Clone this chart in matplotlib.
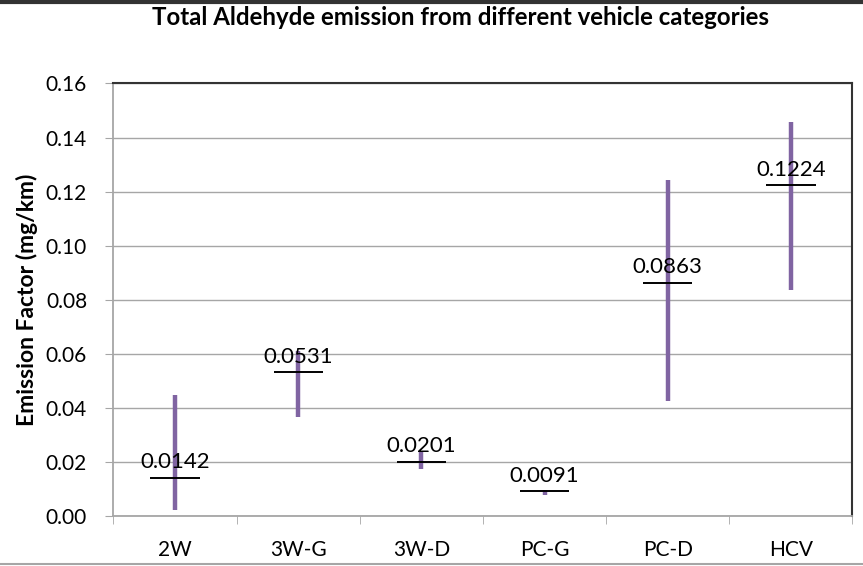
import matplotlib
matplotlib.use('Agg')
import matplotlib.pyplot as plt
from matplotlib.lines import Line2D

plt.rcParams['font.family'] = ['Lato', 'DejaVu Sans']

# emission factors (mg/km) per vehicle category
categories = ['2W', '3W-G', '3W-D', 'PC-G', 'PC-D', 'HCV']
mean_ef = [0.0142, 0.0531, 0.0201, 0.0091, 0.0863, 0.1224]
low_ef = [0.0022, 0.0367, 0.0174, 0.0078, 0.0426, 0.0837]
high_ef = [0.0448, 0.0612, 0.0240, 0.0096, 0.1244, 0.1456]

purple = '#8064A2'

fig = plt.figure(figsize=(8.63, 5.66), dpi=100)
ax = fig.add_axes([0.1315, 0.0883, 0.8563, 0.7642])

x = list(range(len(categories)))

# min-max range bars
ax.vlines(x, low_ef, high_ef, color=purple, lw=3.2, zorder=3)
# mean markers
ax.hlines(mean_ef, [i - 0.2 for i in x], [i + 0.2 for i in x], color='black', lw=1.4, zorder=4)

for i, m in zip(x, mean_ef):
    ax.annotate(f'{m:.4f}', (i, m), xytext=(0, 4), textcoords='offset points',
                ha='center', va='bottom', fontsize=16, zorder=5)

ax.set_xlim(-0.5, len(categories) - 0.5)
ax.set_ylim(0, 0.16)
ax.set_yticks([i * 0.02 for i in range(9)])
ax.set_yticklabels([f'{i * 0.02:.2f}' for i in range(9)], fontsize=15)

ax.set_xticks(x)
ax.set_xticklabels(categories, fontsize=15)
ax.set_xticks([i - 0.5 for i in range(len(categories) + 1)], minor=True)
ax.tick_params(axis='x', which='major', length=0, pad=17)
ax.tick_params(axis='x', which='minor', length=6, color='#a6a6a6', direction='out')
ax.tick_params(axis='y', length=6, color='#a6a6a6', pad=13)

ax.grid(axis='y', color='#a6a6a6', lw=1)
ax.set_axisbelow(True)

for side in ['left', 'bottom']:
    ax.spines[side].set_color('#a6a6a6')
    ax.spines[side].set_linewidth(1.3)
for side in ['top', 'right']:
    ax.spines[side].set_color('#333333')
    ax.spines[side].set_linewidth(1.5)

ax.set_ylabel('Emission Factor (mg/km)', fontsize=16.5, fontweight='bold')
ax.yaxis.set_label_coords(-0.102, 0.5)
fig.text(0.534, 0.969, 'Total Aldehyde emission from different vehicle categories',
         ha='center', va='center', fontsize=17.3, fontweight='bold')

# outer frame lines
fig.add_artist(Line2D([0, 1], [0.997, 0.997], color='#333333', lw=3, transform=fig.transFigure))
fig.add_artist(Line2D([0, 1], [0.003, 0.003], color='#a6a6a6', lw=1.5, transform=fig.transFigure))

fig.savefig('out.png', dpi=100)
